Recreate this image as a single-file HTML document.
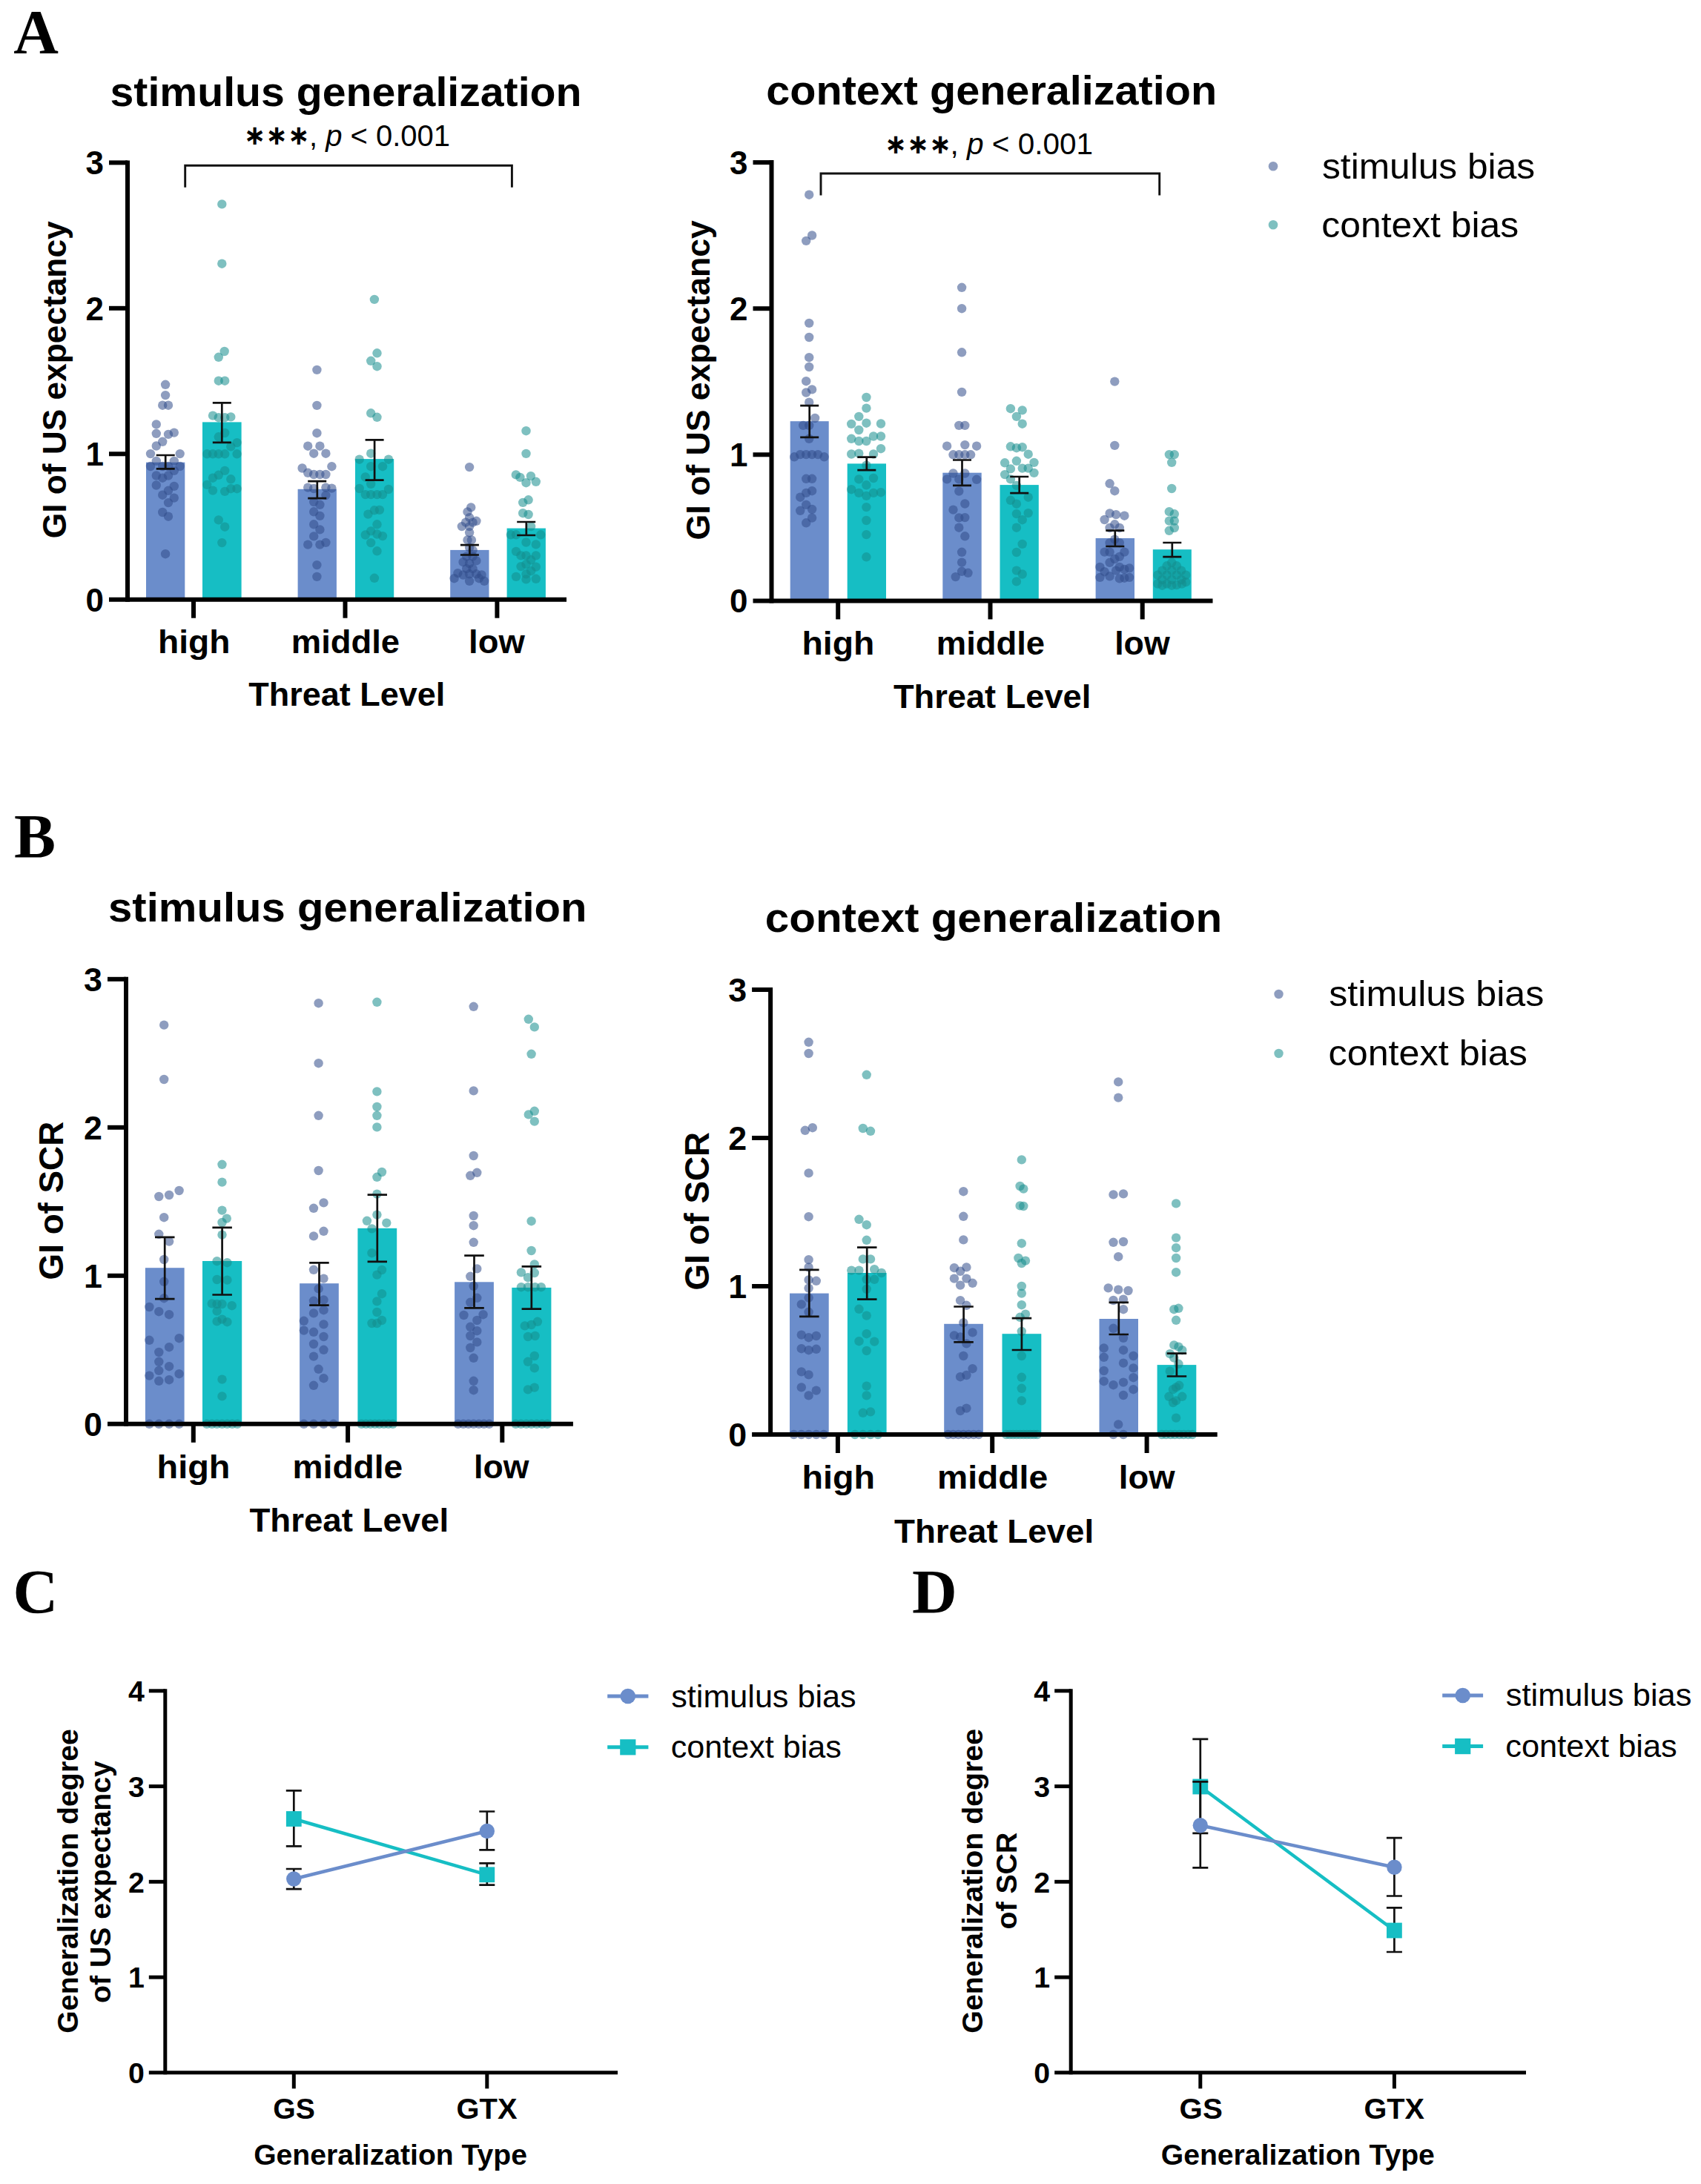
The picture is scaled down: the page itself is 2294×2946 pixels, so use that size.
<!DOCTYPE html>
<html lang="en"><head><meta charset="utf-8"><title>Generalization figure</title>
<style>html,body{margin:0;padding:0;background:#fff}svg{display:block}text{font-family:'Liberation Sans', sans-serif;fill:#000}</style>
</head><body>
<svg width="2294" height="2946" viewBox="0 0 2294 2946">
<rect width="2294" height="2946" fill="#fff"/>
<text x="18.3" y="72" font-size="84" font-weight="bold" style="font-family:'Liberation Serif', serif">A</text>
<text x="18.9" y="1157.3" font-size="84" font-weight="bold" style="font-family:'Liberation Serif', serif">B</text>
<text x="17.4" y="2176" font-size="84" font-weight="bold" style="font-family:'Liberation Serif', serif">C</text>
<text x="1230.1" y="2175.8" font-size="84" font-weight="bold" style="font-family:'Liberation Serif', serif">D</text>
<g id="AL">
<rect x="197" y="623.7" width="52.3" height="185" fill="#6b8dcb"/>
<rect x="273" y="569.4" width="52.6" height="239.3" fill="#16bec4"/>
<rect x="401.6" y="659.8" width="52.3" height="148.9" fill="#6b8dcb"/>
<rect x="479" y="619.1" width="52.2" height="189.6" fill="#16bec4"/>
<rect x="607.2" y="741.9" width="52.3" height="66.8" fill="#6b8dcb"/>
<rect x="683.6" y="712.6" width="52.3" height="96.1" fill="#16bec4"/>
<g fill="#324d8b" fill-opacity="0.55">
<circle cx="223.1" cy="518.8" r="6.2"/>
<circle cx="223.1" cy="533.1" r="6.2"/>
<circle cx="219.2" cy="546.7" r="6.2"/>
<circle cx="227" cy="546.7" r="6.2"/>
<circle cx="210.8" cy="572.4" r="6.2"/>
<circle cx="210.8" cy="584.8" r="6.2"/>
<circle cx="227" cy="585.9" r="6.2"/>
<circle cx="234.8" cy="583.6" r="6.2"/>
<circle cx="219.2" cy="595.8" r="6.2"/>
<circle cx="210.8" cy="601.5" r="6.2"/>
<circle cx="203" cy="612.1" r="6.2"/>
<circle cx="242.7" cy="612.1" r="6.2"/>
<circle cx="210.8" cy="621.9" r="6.2"/>
<circle cx="234.8" cy="621.9" r="6.2"/>
<circle cx="203" cy="629" r="6.2"/>
<circle cx="219.2" cy="629" r="6.2"/>
<circle cx="227" cy="629" r="6.2"/>
<circle cx="242.7" cy="629" r="6.2"/>
<circle cx="210.8" cy="641.5" r="6.2"/>
<circle cx="219.2" cy="644.7" r="6.2"/>
<circle cx="227" cy="641.5" r="6.2"/>
<circle cx="234.8" cy="634.9" r="6.2"/>
<circle cx="210.8" cy="654.5" r="6.2"/>
<circle cx="234.8" cy="655.9" r="6.2"/>
<circle cx="227" cy="661.8" r="6.2"/>
<circle cx="219.2" cy="667.7" r="6.2"/>
<circle cx="234.8" cy="671.6" r="6.2"/>
<circle cx="227" cy="678.1" r="6.2"/>
<circle cx="219.2" cy="691" r="6.2"/>
<circle cx="227" cy="696.7" r="6.2"/>
<circle cx="223.1" cy="747.2" r="6.2"/>
</g>
<g fill="#148c8c" fill-opacity="0.55">
<circle cx="299.3" cy="275.4" r="6.2"/>
<circle cx="299.3" cy="355.7" r="6.2"/>
<circle cx="302.7" cy="474" r="6.2"/>
<circle cx="294.8" cy="481.8" r="6.2"/>
<circle cx="294.8" cy="513.7" r="6.2"/>
<circle cx="303.2" cy="513.7" r="6.2"/>
<circle cx="287" cy="560.6" r="6.2"/>
<circle cx="294.8" cy="563.2" r="6.2"/>
<circle cx="303.2" cy="563.2" r="6.2"/>
<circle cx="311.3" cy="562.4" r="6.2"/>
<circle cx="303.2" cy="584" r="6.2"/>
<circle cx="294.8" cy="589.3" r="6.2"/>
<circle cx="319.6" cy="597.1" r="6.2"/>
<circle cx="311.3" cy="602.3" r="6.2"/>
<circle cx="279.2" cy="612.3" r="6.2"/>
<circle cx="287" cy="612.3" r="6.2"/>
<circle cx="294.8" cy="612.3" r="6.2"/>
<circle cx="303.2" cy="612.3" r="6.2"/>
<circle cx="319.6" cy="612.3" r="6.2"/>
<circle cx="303.2" cy="634.9" r="6.2"/>
<circle cx="294.8" cy="640.8" r="6.2"/>
<circle cx="287" cy="644.7" r="6.2"/>
<circle cx="311.3" cy="646.3" r="6.2"/>
<circle cx="279.2" cy="653.9" r="6.2"/>
<circle cx="287" cy="661.6" r="6.2"/>
<circle cx="303.2" cy="662.9" r="6.2"/>
<circle cx="311.3" cy="659.2" r="6.2"/>
<circle cx="319.6" cy="659.2" r="6.2"/>
<circle cx="294.8" cy="701.4" r="6.2"/>
<circle cx="303.2" cy="710.7" r="6.2"/>
<circle cx="299.3" cy="732.1" r="6.2"/>
</g>
<g fill="#324d8b" fill-opacity="0.55">
<circle cx="427.4" cy="498.9" r="6.2"/>
<circle cx="427.4" cy="546.9" r="6.2"/>
<circle cx="427.4" cy="584.2" r="6.2"/>
<circle cx="415.2" cy="601.7" r="6.2"/>
<circle cx="431.4" cy="601.7" r="6.2"/>
<circle cx="423.2" cy="611.7" r="6.2"/>
<circle cx="439.4" cy="611.7" r="6.2"/>
<circle cx="407.6" cy="631.5" r="6.2"/>
<circle cx="447.4" cy="629.2" r="6.2"/>
<circle cx="415.2" cy="637.8" r="6.2"/>
<circle cx="423.2" cy="640" r="6.2"/>
<circle cx="431.4" cy="640" r="6.2"/>
<circle cx="439.4" cy="640" r="6.2"/>
<circle cx="415.2" cy="657.6" r="6.2"/>
<circle cx="423.2" cy="659" r="6.2"/>
<circle cx="439.4" cy="657.6" r="6.2"/>
<circle cx="447.4" cy="658.6" r="6.2"/>
<circle cx="439.4" cy="668.1" r="6.2"/>
<circle cx="423.2" cy="677.1" r="6.2"/>
<circle cx="431.4" cy="680.8" r="6.2"/>
<circle cx="423.2" cy="690.3" r="6.2"/>
<circle cx="431.4" cy="695.9" r="6.2"/>
<circle cx="423.2" cy="707.3" r="6.2"/>
<circle cx="431.4" cy="714.4" r="6.2"/>
<circle cx="423.2" cy="723.4" r="6.2"/>
<circle cx="415.2" cy="734.6" r="6.2"/>
<circle cx="431.4" cy="734.6" r="6.2"/>
<circle cx="439.4" cy="731.9" r="6.2"/>
<circle cx="427.4" cy="762.1" r="6.2"/>
<circle cx="427.4" cy="777.9" r="6.2"/>
</g>
<g fill="#148c8c" fill-opacity="0.55">
<circle cx="504.9" cy="403.9" r="6.2"/>
<circle cx="508.5" cy="476.3" r="6.2"/>
<circle cx="500.2" cy="486.8" r="6.2"/>
<circle cx="508.5" cy="494.2" r="6.2"/>
<circle cx="500.2" cy="557.3" r="6.2"/>
<circle cx="508.5" cy="562.8" r="6.2"/>
<circle cx="500.2" cy="611.7" r="6.2"/>
<circle cx="484.7" cy="619.7" r="6.2"/>
<circle cx="524" cy="619.7" r="6.2"/>
<circle cx="500.2" cy="629.2" r="6.2"/>
<circle cx="516" cy="629.2" r="6.2"/>
<circle cx="492.8" cy="643.5" r="6.2"/>
<circle cx="500.2" cy="652.9" r="6.2"/>
<circle cx="484.7" cy="659" r="6.2"/>
<circle cx="524" cy="660" r="6.2"/>
<circle cx="492.8" cy="667.1" r="6.2"/>
<circle cx="500.2" cy="667.1" r="6.2"/>
<circle cx="508.5" cy="667.1" r="6.2"/>
<circle cx="516" cy="667.1" r="6.2"/>
<circle cx="504.9" cy="688.3" r="6.2"/>
<circle cx="511.9" cy="687.9" r="6.2"/>
<circle cx="496.4" cy="693.6" r="6.2"/>
<circle cx="508.5" cy="707.3" r="6.2"/>
<circle cx="500.2" cy="716.4" r="6.2"/>
<circle cx="492.8" cy="721.5" r="6.2"/>
<circle cx="508.5" cy="720.5" r="6.2"/>
<circle cx="516" cy="723.1" r="6.2"/>
<circle cx="500.2" cy="732.1" r="6.2"/>
<circle cx="508.5" cy="743.3" r="6.2"/>
<circle cx="504.9" cy="779.8" r="6.2"/>
</g>
<g fill="#324d8b" fill-opacity="0.55">
<circle cx="633.1" cy="630.1" r="6.2"/>
<circle cx="635.2" cy="684.4" r="6.2"/>
<circle cx="630.5" cy="690.4" r="6.2"/>
<circle cx="633.1" cy="698.1" r="6.2"/>
<circle cx="628.1" cy="704.6" r="6.2"/>
<circle cx="642.4" cy="702.8" r="6.2"/>
<circle cx="637.6" cy="704.6" r="6.2"/>
<circle cx="622.8" cy="710.1" r="6.2"/>
<circle cx="633.1" cy="710.1" r="6.2"/>
<circle cx="633.1" cy="718.3" r="6.2"/>
<circle cx="630.5" cy="728.4" r="6.2"/>
<circle cx="635.9" cy="728.4" r="6.2"/>
<circle cx="633.1" cy="738.6" r="6.2"/>
<circle cx="637.6" cy="742.1" r="6.2"/>
<circle cx="629.2" cy="750.6" r="6.2"/>
<circle cx="637.6" cy="750.6" r="6.2"/>
<circle cx="624.6" cy="758.2" r="6.2"/>
<circle cx="633.1" cy="760" r="6.2"/>
<circle cx="642.4" cy="756.4" r="6.2"/>
<circle cx="629.2" cy="767.1" r="6.2"/>
<circle cx="637.6" cy="767.1" r="6.2"/>
<circle cx="617.4" cy="773.1" r="6.2"/>
<circle cx="624.6" cy="775.5" r="6.2"/>
<circle cx="633.1" cy="774.3" r="6.2"/>
<circle cx="642.4" cy="774.3" r="6.2"/>
<circle cx="649.6" cy="775.5" r="6.2"/>
<circle cx="612.6" cy="780.2" r="6.2"/>
<circle cx="633.1" cy="783.8" r="6.2"/>
<circle cx="646" cy="780.2" r="6.2"/>
<circle cx="653.1" cy="783.8" r="6.2"/>
</g>
<g fill="#148c8c" fill-opacity="0.55">
<circle cx="709.5" cy="581.2" r="6.2"/>
<circle cx="709.5" cy="611.9" r="6.2"/>
<circle cx="695.8" cy="640.4" r="6.2"/>
<circle cx="701.4" cy="643.9" r="6.2"/>
<circle cx="715.9" cy="642.1" r="6.2"/>
<circle cx="709.5" cy="651.2" r="6.2"/>
<circle cx="722.8" cy="649.8" r="6.2"/>
<circle cx="712.6" cy="674.3" r="6.2"/>
<circle cx="705.2" cy="677.9" r="6.2"/>
<circle cx="705.2" cy="692.2" r="6.2"/>
<circle cx="712.6" cy="694" r="6.2"/>
<circle cx="716.1" cy="710.1" r="6.2"/>
<circle cx="688.9" cy="721.3" r="6.2"/>
<circle cx="696" cy="721.3" r="6.2"/>
<circle cx="729.2" cy="721.3" r="6.2"/>
<circle cx="709.5" cy="731.5" r="6.2"/>
<circle cx="722.8" cy="734.4" r="6.2"/>
<circle cx="696" cy="743.9" r="6.2"/>
<circle cx="702.5" cy="749.4" r="6.2"/>
<circle cx="709.5" cy="749.4" r="6.2"/>
<circle cx="722.8" cy="749.4" r="6.2"/>
<circle cx="716.1" cy="755.3" r="6.2"/>
<circle cx="709.5" cy="761.2" r="6.2"/>
<circle cx="702.5" cy="764.1" r="6.2"/>
<circle cx="722.8" cy="764.7" r="6.2"/>
<circle cx="716.1" cy="770.2" r="6.2"/>
<circle cx="709.5" cy="774.3" r="6.2"/>
<circle cx="696" cy="777.9" r="6.2"/>
<circle cx="722.8" cy="780.8" r="6.2"/>
<circle cx="709.5" cy="781.4" r="6.2"/>
</g>
<g stroke="#111" stroke-width="2.7" fill="none">
<path d="M223.2 614V632.3M210.7 614H235.7M210.7 632.3H235.7"/>
<path d="M299.3 543.3V596.8M286.8 543.3H311.8M286.8 596.8H311.8"/>
<path d="M427.8 649.1V672.1M415.2 649.1H440.2M415.2 672.1H440.2"/>
<path d="M505.1 593.4V647.6M492.6 593.4H517.6M492.6 647.6H517.6"/>
<path d="M633.4 735.1V748.5M620.9 735.1H645.9M620.9 748.5H645.9"/>
<path d="M709.8 704V722M697.2 704H722.2M697.2 722H722.2"/>
</g>
<g stroke="#000" stroke-width="6" fill="none">
<path d="M172 216.4V811.7"/>
<path d="M147 808.7H764"/>
<path d="M147 612.3H172"/>
<path d="M147 415.8H172"/>
<path d="M147 219.4H172"/>
<path d="M261 808.7V833.7"/>
<path d="M465.5 808.7V833.7"/>
<path d="M670.4 808.7V833.7"/>
</g>
<text x="140" y="824.7" font-size="44" text-anchor="end" font-weight="bold">0</text>
<text x="140" y="628.3" font-size="44" text-anchor="end" font-weight="bold">1</text>
<text x="140" y="431.9" font-size="44" text-anchor="end" font-weight="bold">2</text>
<text x="140" y="235.4" font-size="44" text-anchor="end" font-weight="bold">3</text>
<text x="213.1" y="881" font-size="44" font-weight="bold" textLength="97.4" lengthAdjust="spacingAndGlyphs">high</text>
<text x="392.8" y="881" font-size="44" font-weight="bold" textLength="146.3" lengthAdjust="spacingAndGlyphs">middle</text>
<text x="632.1" y="881" font-size="44" font-weight="bold" textLength="75.7" lengthAdjust="spacingAndGlyphs">low</text>
<text x="335.3" y="952" font-size="44" font-weight="bold" textLength="264.9" lengthAdjust="spacingAndGlyphs">Threat Level</text>
<text transform="translate(89.4 726.2) rotate(-90)" font-size="44" font-weight="bold" textLength="427.8" lengthAdjust="spacingAndGlyphs">GI of US expectancy</text>
<text x="148.5" y="143.3" font-size="55" font-weight="bold" textLength="636" lengthAdjust="spacingAndGlyphs">stimulus generalization</text>
</g>
<text x="329" y="195.3" font-size="37" text-anchor="start" font-weight="bold" style="font-family:'DejaVu Sans',sans-serif" textLength="88.8" lengthAdjust="spacingAndGlyphs">∗∗∗</text>
<text x="417" y="197" font-size="41" text-anchor="start" font-weight="normal" textLength="190" lengthAdjust="spacingAndGlyphs">, <tspan font-style="italic">p</tspan> &lt; 0.001</text>
<path d="M249.7 252.8V223.3H690.4V252.8" stroke="#111" stroke-width="2.9" fill="none"/>
<g id="AR">
<rect x="1065.7" y="568.2" width="52" height="242.2" fill="#6b8dcb"/>
<rect x="1142.7" y="625.4" width="52.3" height="185" fill="#16bec4"/>
<rect x="1271.3" y="637.7" width="52.4" height="172.7" fill="#6b8dcb"/>
<rect x="1348.5" y="654.1" width="52.3" height="156.3" fill="#16bec4"/>
<rect x="1477.6" y="726" width="52.4" height="84.4" fill="#6b8dcb"/>
<rect x="1554.8" y="741.2" width="52" height="69.2" fill="#16bec4"/>
<g fill="#324d8b" fill-opacity="0.55">
<circle cx="1091.2" cy="262.7" r="6.2"/>
<circle cx="1095.1" cy="317.5" r="6.2"/>
<circle cx="1087.2" cy="324.9" r="6.2"/>
<circle cx="1091.2" cy="435.9" r="6.2"/>
<circle cx="1091.2" cy="455" r="6.2"/>
<circle cx="1091.2" cy="482.2" r="6.2"/>
<circle cx="1091.2" cy="495" r="6.2"/>
<circle cx="1087.2" cy="514.2" r="6.2"/>
<circle cx="1095.1" cy="525.4" r="6.2"/>
<circle cx="1087.2" cy="529.5" r="6.2"/>
<circle cx="1091.2" cy="542.7" r="6.2"/>
<circle cx="1099.1" cy="564" r="6.2"/>
<circle cx="1083.2" cy="573.9" r="6.2"/>
<circle cx="1091.2" cy="573.9" r="6.2"/>
<circle cx="1091.2" cy="591.8" r="6.2"/>
<circle cx="1071.2" cy="616.3" r="6.2"/>
<circle cx="1079.2" cy="613.1" r="6.2"/>
<circle cx="1087.2" cy="613.1" r="6.2"/>
<circle cx="1095.1" cy="613.1" r="6.2"/>
<circle cx="1103.1" cy="613.1" r="6.2"/>
<circle cx="1111.6" cy="616.3" r="6.2"/>
<circle cx="1087.2" cy="645.8" r="6.2"/>
<circle cx="1095.1" cy="645.8" r="6.2"/>
<circle cx="1095.1" cy="662.2" r="6.2"/>
<circle cx="1087.2" cy="664.9" r="6.2"/>
<circle cx="1079.2" cy="670.7" r="6.2"/>
<circle cx="1087.2" cy="680.9" r="6.2"/>
<circle cx="1095.1" cy="687" r="6.2"/>
<circle cx="1079.2" cy="688.8" r="6.2"/>
<circle cx="1095.1" cy="698.6" r="6.2"/>
<circle cx="1087.2" cy="705.3" r="6.2"/>
</g>
<g fill="#148c8c" fill-opacity="0.55">
<circle cx="1168.4" cy="536" r="6.2"/>
<circle cx="1168.4" cy="550.6" r="6.2"/>
<circle cx="1158.3" cy="561.9" r="6.2"/>
<circle cx="1168.4" cy="570.7" r="6.2"/>
<circle cx="1148.2" cy="571.9" r="6.2"/>
<circle cx="1188" cy="571.5" r="6.2"/>
<circle cx="1158.3" cy="580" r="6.2"/>
<circle cx="1148.2" cy="591.8" r="6.2"/>
<circle cx="1158.3" cy="595" r="6.2"/>
<circle cx="1168.4" cy="595" r="6.2"/>
<circle cx="1178" cy="588.5" r="6.2"/>
<circle cx="1188" cy="588.5" r="6.2"/>
<circle cx="1188" cy="605.2" r="6.2"/>
<circle cx="1148.2" cy="612.5" r="6.2"/>
<circle cx="1158.3" cy="611.7" r="6.2"/>
<circle cx="1178" cy="612.5" r="6.2"/>
<circle cx="1168.4" cy="627.7" r="6.2"/>
<circle cx="1158.3" cy="646.4" r="6.2"/>
<circle cx="1178" cy="645" r="6.2"/>
<circle cx="1168.4" cy="654.3" r="6.2"/>
<circle cx="1148.2" cy="660.2" r="6.2"/>
<circle cx="1158.3" cy="664.9" r="6.2"/>
<circle cx="1168.4" cy="668.9" r="6.2"/>
<circle cx="1178" cy="664.9" r="6.2"/>
<circle cx="1188" cy="664.2" r="6.2"/>
<circle cx="1168.4" cy="684.1" r="6.2"/>
<circle cx="1168.4" cy="702" r="6.2"/>
<circle cx="1168.4" cy="721.1" r="6.2"/>
<circle cx="1168.4" cy="751.3" r="6.2"/>
</g>
<g fill="#324d8b" fill-opacity="0.55">
<circle cx="1297.1" cy="387.8" r="6.2"/>
<circle cx="1297.1" cy="416.2" r="6.2"/>
<circle cx="1297.1" cy="475.3" r="6.2"/>
<circle cx="1297.1" cy="528.9" r="6.2"/>
<circle cx="1293.3" cy="573.9" r="6.2"/>
<circle cx="1301.3" cy="573.9" r="6.2"/>
<circle cx="1277.1" cy="601.7" r="6.2"/>
<circle cx="1301.3" cy="600.1" r="6.2"/>
<circle cx="1317.1" cy="601.7" r="6.2"/>
<circle cx="1285.5" cy="613.3" r="6.2"/>
<circle cx="1293.3" cy="613.3" r="6.2"/>
<circle cx="1301.3" cy="613.3" r="6.2"/>
<circle cx="1309.1" cy="613.3" r="6.2"/>
<circle cx="1285.5" cy="638.5" r="6.2"/>
<circle cx="1301.3" cy="638.5" r="6.2"/>
<circle cx="1277.1" cy="646.4" r="6.2"/>
<circle cx="1293.3" cy="646.4" r="6.2"/>
<circle cx="1317.1" cy="646.8" r="6.2"/>
<circle cx="1293.3" cy="662.6" r="6.2"/>
<circle cx="1301.3" cy="679.5" r="6.2"/>
<circle cx="1285.5" cy="687.6" r="6.2"/>
<circle cx="1293.3" cy="698.4" r="6.2"/>
<circle cx="1301.3" cy="698.1" r="6.2"/>
<circle cx="1293.3" cy="711.7" r="6.2"/>
<circle cx="1301.3" cy="723.3" r="6.2"/>
<circle cx="1297.1" cy="744.8" r="6.2"/>
<circle cx="1297.1" cy="758.6" r="6.2"/>
<circle cx="1297.1" cy="770.8" r="6.2"/>
<circle cx="1305.5" cy="772.8" r="6.2"/>
<circle cx="1288.7" cy="778.1" r="6.2"/>
</g>
<g fill="#148c8c" fill-opacity="0.55">
<circle cx="1362.9" cy="551.2" r="6.2"/>
<circle cx="1378.7" cy="553.4" r="6.2"/>
<circle cx="1370.9" cy="561.9" r="6.2"/>
<circle cx="1378.7" cy="571.7" r="6.2"/>
<circle cx="1362.9" cy="602.3" r="6.2"/>
<circle cx="1370.9" cy="604.2" r="6.2"/>
<circle cx="1378.7" cy="603.2" r="6.2"/>
<circle cx="1386.7" cy="612.7" r="6.2"/>
<circle cx="1370.9" cy="621.8" r="6.2"/>
<circle cx="1355.1" cy="624.3" r="6.2"/>
<circle cx="1394.5" cy="623.9" r="6.2"/>
<circle cx="1362.9" cy="632.4" r="6.2"/>
<circle cx="1378.7" cy="631.6" r="6.2"/>
<circle cx="1386.7" cy="631.6" r="6.2"/>
<circle cx="1355.1" cy="640.1" r="6.2"/>
<circle cx="1394.5" cy="637.9" r="6.2"/>
<circle cx="1362.9" cy="646.4" r="6.2"/>
<circle cx="1370.9" cy="654.9" r="6.2"/>
<circle cx="1386.7" cy="670.7" r="6.2"/>
<circle cx="1362.9" cy="674.8" r="6.2"/>
<circle cx="1370.9" cy="679.7" r="6.2"/>
<circle cx="1370.9" cy="693.1" r="6.2"/>
<circle cx="1386.7" cy="692.1" r="6.2"/>
<circle cx="1378.7" cy="701.2" r="6.2"/>
<circle cx="1370.9" cy="711.7" r="6.2"/>
<circle cx="1378.7" cy="733.9" r="6.2"/>
<circle cx="1370.9" cy="745" r="6.2"/>
<circle cx="1370.9" cy="769.6" r="6.2"/>
<circle cx="1378.7" cy="774.5" r="6.2"/>
<circle cx="1370.9" cy="784.4" r="6.2"/>
</g>
<g fill="#324d8b" fill-opacity="0.55">
<circle cx="1503.3" cy="514.6" r="6.2"/>
<circle cx="1503.3" cy="600.9" r="6.2"/>
<circle cx="1496.6" cy="652.3" r="6.2"/>
<circle cx="1503.3" cy="662.2" r="6.2"/>
<circle cx="1496.6" cy="692.5" r="6.2"/>
<circle cx="1505.1" cy="694.1" r="6.2"/>
<circle cx="1516.4" cy="695.7" r="6.2"/>
<circle cx="1489.6" cy="701" r="6.2"/>
<circle cx="1503.3" cy="707.3" r="6.2"/>
<circle cx="1496.6" cy="712" r="6.2"/>
<circle cx="1509.8" cy="712" r="6.2"/>
<circle cx="1503.3" cy="727.6" r="6.2"/>
<circle cx="1496.6" cy="732.2" r="6.2"/>
<circle cx="1509.8" cy="732.2" r="6.2"/>
<circle cx="1489.6" cy="744.6" r="6.2"/>
<circle cx="1496.6" cy="744.6" r="6.2"/>
<circle cx="1516.4" cy="744.6" r="6.2"/>
<circle cx="1509.8" cy="750.9" r="6.2"/>
<circle cx="1503.3" cy="754" r="6.2"/>
<circle cx="1496.6" cy="758.8" r="6.2"/>
<circle cx="1483.4" cy="764.9" r="6.2"/>
<circle cx="1489.6" cy="771.2" r="6.2"/>
<circle cx="1496.6" cy="777.3" r="6.2"/>
<circle cx="1505.1" cy="769.6" r="6.2"/>
<circle cx="1509.8" cy="764.9" r="6.2"/>
<circle cx="1516.4" cy="768" r="6.2"/>
<circle cx="1523" cy="766.4" r="6.2"/>
<circle cx="1483.4" cy="778.9" r="6.2"/>
<circle cx="1509.8" cy="780.4" r="6.2"/>
<circle cx="1523" cy="778.9" r="6.2"/>
<circle cx="1516.4" cy="779.7" r="6.2"/>
</g>
<g fill="#148c8c" fill-opacity="0.55">
<circle cx="1576.8" cy="613.1" r="6.2"/>
<circle cx="1583.8" cy="613.1" r="6.2"/>
<circle cx="1580.2" cy="623.9" r="6.2"/>
<circle cx="1580.2" cy="659" r="6.2"/>
<circle cx="1576.8" cy="690.2" r="6.2"/>
<circle cx="1583.8" cy="693.3" r="6.2"/>
<circle cx="1576.8" cy="702.6" r="6.2"/>
<circle cx="1583.8" cy="702.6" r="6.2"/>
<circle cx="1583.8" cy="712" r="6.2"/>
<circle cx="1576.8" cy="715.8" r="6.2"/>
<circle cx="1580.2" cy="758.8" r="6.2"/>
<circle cx="1573.6" cy="763.3" r="6.2"/>
<circle cx="1586.9" cy="763.3" r="6.2"/>
<circle cx="1567.4" cy="769.6" r="6.2"/>
<circle cx="1580.2" cy="769.6" r="6.2"/>
<circle cx="1593.1" cy="769.6" r="6.2"/>
<circle cx="1561.2" cy="775.7" r="6.2"/>
<circle cx="1573.6" cy="775.7" r="6.2"/>
<circle cx="1586.9" cy="775.7" r="6.2"/>
<circle cx="1599.3" cy="775.7" r="6.2"/>
<circle cx="1567.4" cy="782" r="6.2"/>
<circle cx="1580.2" cy="782" r="6.2"/>
<circle cx="1593.1" cy="782" r="6.2"/>
<circle cx="1561.2" cy="787.5" r="6.2"/>
<circle cx="1573.6" cy="787.5" r="6.2"/>
<circle cx="1599.3" cy="785.2" r="6.2"/>
<circle cx="1586.9" cy="789.1" r="6.2"/>
<circle cx="1580.2" cy="789.7" r="6.2"/>
<circle cx="1567.4" cy="789.7" r="6.2"/>
<circle cx="1593.9" cy="787.5" r="6.2"/>
</g>
<g stroke="#111" stroke-width="2.7" fill="none">
<path d="M1091.7 547.1V589.9M1079.2 547.1H1104.2M1079.2 589.9H1104.2"/>
<path d="M1168.8 616.7V634.2M1156.3 616.7H1181.3M1156.3 634.2H1181.3"/>
<path d="M1297.5 620.5V654.9M1285 620.5H1310M1285 654.9H1310"/>
<path d="M1374.7 643V665.2M1362.2 643H1387.2M1362.2 665.2H1387.2"/>
<path d="M1503.8 715.6V737M1491.3 715.6H1516.3M1491.3 737H1516.3"/>
<path d="M1580.8 732V751.2M1568.3 732H1593.3M1568.3 751.2H1593.3"/>
</g>
<g stroke="#000" stroke-width="6" fill="none">
<path d="M1040.5 216.1V813.4"/>
<path d="M1015.5 810.4H1635.5"/>
<path d="M1015.5 613.3H1040.5"/>
<path d="M1015.5 416.2H1040.5"/>
<path d="M1015.5 219.1H1040.5"/>
<path d="M1130.2 810.4V835.4"/>
<path d="M1335.5 810.4V835.4"/>
<path d="M1540.7 810.4V835.4"/>
</g>
<text x="1008.5" y="826.4" font-size="44" text-anchor="end" font-weight="bold">0</text>
<text x="1008.5" y="629.3" font-size="44" text-anchor="end" font-weight="bold">1</text>
<text x="1008.5" y="432.2" font-size="44" text-anchor="end" font-weight="bold">2</text>
<text x="1008.5" y="235.1" font-size="44" text-anchor="end" font-weight="bold">3</text>
<text x="1081.5" y="883.2" font-size="44" font-weight="bold" textLength="97.8" lengthAdjust="spacingAndGlyphs">high</text>
<text x="1262.8" y="883.2" font-size="44" font-weight="bold" textLength="146.3" lengthAdjust="spacingAndGlyphs">middle</text>
<text x="1503.2" y="883.2" font-size="44" font-weight="bold" textLength="74.5" lengthAdjust="spacingAndGlyphs">low</text>
<text x="1205" y="955" font-size="44" font-weight="bold" textLength="266.2" lengthAdjust="spacingAndGlyphs">Threat Level</text>
<text transform="translate(957.4 728.5) rotate(-90)" font-size="44" font-weight="bold" textLength="431.3" lengthAdjust="spacingAndGlyphs">GI of US expectancy</text>
<text x="1033.3" y="141.3" font-size="55" font-weight="bold" textLength="607.8" lengthAdjust="spacingAndGlyphs">context generalization</text>
</g>
<text x="1193.2" y="206.5" font-size="37" text-anchor="start" font-weight="bold" style="font-family:'DejaVu Sans',sans-serif" textLength="90" lengthAdjust="spacingAndGlyphs">∗∗∗</text>
<text x="1281.5" y="208" font-size="41" text-anchor="start" font-weight="normal" textLength="192.5" lengthAdjust="spacingAndGlyphs">, <tspan font-style="italic">p</tspan> &lt; 0.001</text>
<path d="M1107 263.5V234H1563.7V263.5" stroke="#111" stroke-width="2.9" fill="none"/>
<circle cx="1717" cy="224.2" r="6.3" fill="#324d8b" fill-opacity="0.55"/>
<circle cx="1717" cy="303.3" r="6.3" fill="#148c8c" fill-opacity="0.55"/>
<text x="1783" y="240.9" font-size="48.5" font-weight="normal" textLength="287.1" lengthAdjust="spacingAndGlyphs">stimulus bias</text>
<text x="1782.3" y="320.4" font-size="48.5" font-weight="normal" textLength="265.9" lengthAdjust="spacingAndGlyphs">context bias</text>
<g id="BL">
<rect x="195.9" y="1710.2" width="52.7" height="210.6" fill="#6b8dcb"/>
<rect x="273" y="1701" width="53.2" height="219.8" fill="#16bec4"/>
<rect x="404.1" y="1731.2" width="52.7" height="189.6" fill="#6b8dcb"/>
<rect x="482.4" y="1656.8" width="52.8" height="264" fill="#16bec4"/>
<rect x="613.1" y="1729.3" width="52.8" height="191.5" fill="#6b8dcb"/>
<rect x="690.3" y="1736.9" width="53.1" height="183.9" fill="#16bec4"/>
<g fill="#324d8b" fill-opacity="0.55">
<circle cx="221.2" cy="1382.6" r="6.2"/>
<circle cx="221.2" cy="1456" r="6.2"/>
<circle cx="214.3" cy="1614" r="6.2"/>
<circle cx="228.1" cy="1612" r="6.2"/>
<circle cx="241.6" cy="1606" r="6.2"/>
<circle cx="221.2" cy="1642.2" r="6.2"/>
<circle cx="214.3" cy="1664.8" r="6.2"/>
<circle cx="228.1" cy="1674.6" r="6.2"/>
<circle cx="221.2" cy="1699" r="6.2"/>
<circle cx="221.2" cy="1728.8" r="6.2"/>
<circle cx="221.2" cy="1751.2" r="6.2"/>
<circle cx="201.4" cy="1763" r="6.2"/>
<circle cx="214.3" cy="1769.2" r="6.2"/>
<circle cx="228.1" cy="1773.2" r="6.2"/>
<circle cx="201.4" cy="1807.8" r="6.2"/>
<circle cx="241.6" cy="1805.2" r="6.2"/>
<circle cx="228.1" cy="1817.2" r="6.2"/>
<circle cx="214.3" cy="1824" r="6.2"/>
<circle cx="214.3" cy="1836.8" r="6.2"/>
<circle cx="228.1" cy="1843.2" r="6.2"/>
<circle cx="214.3" cy="1848.8" r="6.2"/>
<circle cx="201.4" cy="1855.6" r="6.2"/>
<circle cx="241.6" cy="1853.2" r="6.2"/>
<circle cx="214.3" cy="1862.8" r="6.2"/>
<circle cx="228.1" cy="1861.2" r="6.2"/>
<circle cx="201.4" cy="1920.8" r="6.2"/>
<circle cx="214.3" cy="1920.8" r="6.2"/>
<circle cx="228.1" cy="1920.8" r="6.2"/>
<circle cx="241.6" cy="1920.8" r="6.2"/>
</g>
<g fill="#148c8c" fill-opacity="0.55">
<circle cx="299.5" cy="1570.8" r="6.2"/>
<circle cx="299.5" cy="1594.6" r="6.2"/>
<circle cx="299.5" cy="1632.6" r="6.2"/>
<circle cx="305.8" cy="1643.6" r="6.2"/>
<circle cx="299.5" cy="1649" r="6.2"/>
<circle cx="299.5" cy="1665.6" r="6.2"/>
<circle cx="292.6" cy="1701.2" r="6.2"/>
<circle cx="306.4" cy="1703.2" r="6.2"/>
<circle cx="292.6" cy="1726" r="6.2"/>
<circle cx="306.4" cy="1726.6" r="6.2"/>
<circle cx="285.8" cy="1758.4" r="6.2"/>
<circle cx="292.6" cy="1759" r="6.2"/>
<circle cx="299.5" cy="1759" r="6.2"/>
<circle cx="312.7" cy="1761.2" r="6.2"/>
<circle cx="292.6" cy="1768.6" r="6.2"/>
<circle cx="292.6" cy="1782.4" r="6.2"/>
<circle cx="299.5" cy="1779.6" r="6.2"/>
<circle cx="306.4" cy="1783.2" r="6.2"/>
<circle cx="299.5" cy="1860.6" r="6.2"/>
<circle cx="299.5" cy="1883.4" r="6.2"/>
<circle cx="278.9" cy="1920.8" r="6.2"/>
<circle cx="285.8" cy="1920.8" r="6.2"/>
<circle cx="292.6" cy="1920.8" r="6.2"/>
<circle cx="299.5" cy="1920.8" r="6.2"/>
<circle cx="306.4" cy="1920.8" r="6.2"/>
<circle cx="313.2" cy="1920.8" r="6.2"/>
<circle cx="320.1" cy="1920.8" r="6.2"/>
</g>
<g fill="#324d8b" fill-opacity="0.55">
<circle cx="429.6" cy="1353.2" r="6.2"/>
<circle cx="429.6" cy="1434.2" r="6.2"/>
<circle cx="429.6" cy="1504.8" r="6.2"/>
<circle cx="429.6" cy="1579" r="6.2"/>
<circle cx="423" cy="1629.8" r="6.2"/>
<circle cx="436.5" cy="1622.4" r="6.2"/>
<circle cx="423" cy="1667.4" r="6.2"/>
<circle cx="436.5" cy="1660.8" r="6.2"/>
<circle cx="423" cy="1712.8" r="6.2"/>
<circle cx="436.5" cy="1724.6" r="6.2"/>
<circle cx="429.6" cy="1738.4" r="6.2"/>
<circle cx="423" cy="1754.8" r="6.2"/>
<circle cx="436.5" cy="1753.4" r="6.2"/>
<circle cx="423" cy="1771.4" r="6.2"/>
<circle cx="436.5" cy="1767.2" r="6.2"/>
<circle cx="409.8" cy="1781.8" r="6.2"/>
<circle cx="436.5" cy="1786.4" r="6.2"/>
<circle cx="409.8" cy="1794.6" r="6.2"/>
<circle cx="423" cy="1796.8" r="6.2"/>
<circle cx="436.5" cy="1803" r="6.2"/>
<circle cx="423" cy="1813" r="6.2"/>
<circle cx="436.5" cy="1820.8" r="6.2"/>
<circle cx="423" cy="1829.6" r="6.2"/>
<circle cx="429.6" cy="1846.8" r="6.2"/>
<circle cx="436.5" cy="1859.2" r="6.2"/>
<circle cx="423" cy="1868.8" r="6.2"/>
<circle cx="409.8" cy="1920.8" r="6.2"/>
<circle cx="423" cy="1920.8" r="6.2"/>
<circle cx="436.5" cy="1920.8" r="6.2"/>
<circle cx="449.7" cy="1920.8" r="6.2"/>
</g>
<g fill="#148c8c" fill-opacity="0.55">
<circle cx="508.4" cy="1351.8" r="6.2"/>
<circle cx="508.4" cy="1472.4" r="6.2"/>
<circle cx="508.4" cy="1493" r="6.2"/>
<circle cx="508.4" cy="1504.8" r="6.2"/>
<circle cx="508.4" cy="1520.4" r="6.2"/>
<circle cx="515" cy="1581" r="6.2"/>
<circle cx="508.4" cy="1587.8" r="6.2"/>
<circle cx="508.4" cy="1610.6" r="6.2"/>
<circle cx="508.4" cy="1638.6" r="6.2"/>
<circle cx="494.9" cy="1646.8" r="6.2"/>
<circle cx="521.3" cy="1649.6" r="6.2"/>
<circle cx="501.5" cy="1657.4" r="6.2"/>
<circle cx="501.5" cy="1690.2" r="6.2"/>
<circle cx="515" cy="1713" r="6.2"/>
<circle cx="508.4" cy="1719.6" r="6.2"/>
<circle cx="515" cy="1745.2" r="6.2"/>
<circle cx="508.4" cy="1755.4" r="6.2"/>
<circle cx="508.4" cy="1770" r="6.2"/>
<circle cx="515" cy="1781" r="6.2"/>
<circle cx="501.5" cy="1785" r="6.2"/>
<circle cx="508.4" cy="1785" r="6.2"/>
<circle cx="487.5" cy="1920.8" r="6.2"/>
<circle cx="493.6" cy="1920.8" r="6.2"/>
<circle cx="499.6" cy="1920.8" r="6.2"/>
<circle cx="505.7" cy="1920.8" r="6.2"/>
<circle cx="511.7" cy="1920.8" r="6.2"/>
<circle cx="517.7" cy="1920.8" r="6.2"/>
<circle cx="523.8" cy="1920.8" r="6.2"/>
<circle cx="529.8" cy="1920.8" r="6.2"/>
</g>
<g fill="#324d8b" fill-opacity="0.55">
<circle cx="638.7" cy="1357.8" r="6.2"/>
<circle cx="638.7" cy="1471.4" r="6.2"/>
<circle cx="638.7" cy="1559" r="6.2"/>
<circle cx="643.3" cy="1581.8" r="6.2"/>
<circle cx="634.3" cy="1585.8" r="6.2"/>
<circle cx="638.7" cy="1640" r="6.2"/>
<circle cx="638.7" cy="1653.2" r="6.2"/>
<circle cx="638.7" cy="1675.8" r="6.2"/>
<circle cx="643.3" cy="1711.4" r="6.2"/>
<circle cx="634.3" cy="1721.8" r="6.2"/>
<circle cx="638.7" cy="1734.8" r="6.2"/>
<circle cx="643.3" cy="1750.8" r="6.2"/>
<circle cx="634.3" cy="1756.8" r="6.2"/>
<circle cx="625.5" cy="1774" r="6.2"/>
<circle cx="651.6" cy="1773.2" r="6.2"/>
<circle cx="643.3" cy="1781" r="6.2"/>
<circle cx="634.3" cy="1789.8" r="6.2"/>
<circle cx="643.3" cy="1795.2" r="6.2"/>
<circle cx="634.3" cy="1802" r="6.2"/>
<circle cx="643.3" cy="1810.4" r="6.2"/>
<circle cx="634.3" cy="1818" r="6.2"/>
<circle cx="638.7" cy="1831.8" r="6.2"/>
<circle cx="638.7" cy="1862.8" r="6.2"/>
<circle cx="638.7" cy="1875.2" r="6.2"/>
<circle cx="617.8" cy="1920.8" r="6.2"/>
<circle cx="624.9" cy="1920.8" r="6.2"/>
<circle cx="631.8" cy="1920.8" r="6.2"/>
<circle cx="638.7" cy="1920.8" r="6.2"/>
<circle cx="645.8" cy="1920.8" r="6.2"/>
<circle cx="652.7" cy="1920.8" r="6.2"/>
<circle cx="659.8" cy="1920.8" r="6.2"/>
</g>
<g fill="#148c8c" fill-opacity="0.55">
<circle cx="712.8" cy="1374.8" r="6.2"/>
<circle cx="720.8" cy="1385.4" r="6.2"/>
<circle cx="716.6" cy="1421.8" r="6.2"/>
<circle cx="720.8" cy="1498.8" r="6.2"/>
<circle cx="712.8" cy="1503.4" r="6.2"/>
<circle cx="720.8" cy="1512.6" r="6.2"/>
<circle cx="716.6" cy="1647.2" r="6.2"/>
<circle cx="716.6" cy="1687" r="6.2"/>
<circle cx="720.8" cy="1705.4" r="6.2"/>
<circle cx="702.9" cy="1716.4" r="6.2"/>
<circle cx="720.8" cy="1717" r="6.2"/>
<circle cx="712" cy="1723.2" r="6.2"/>
<circle cx="702.9" cy="1736.2" r="6.2"/>
<circle cx="712" cy="1736.2" r="6.2"/>
<circle cx="721.6" cy="1736.2" r="6.2"/>
<circle cx="729.8" cy="1736.2" r="6.2"/>
<circle cx="724.9" cy="1782.8" r="6.2"/>
<circle cx="707.8" cy="1788.4" r="6.2"/>
<circle cx="716.6" cy="1787" r="6.2"/>
<circle cx="712" cy="1803" r="6.2"/>
<circle cx="721.6" cy="1802" r="6.2"/>
<circle cx="720.8" cy="1829" r="6.2"/>
<circle cx="712" cy="1836.8" r="6.2"/>
<circle cx="720.8" cy="1845.4" r="6.2"/>
<circle cx="720.8" cy="1871.6" r="6.2"/>
<circle cx="712" cy="1874.4" r="6.2"/>
<circle cx="695.5" cy="1920.8" r="6.2"/>
<circle cx="702.6" cy="1920.8" r="6.2"/>
<circle cx="709.8" cy="1920.8" r="6.2"/>
<circle cx="716.6" cy="1920.8" r="6.2"/>
<circle cx="723.8" cy="1920.8" r="6.2"/>
<circle cx="730.9" cy="1920.8" r="6.2"/>
<circle cx="738.1" cy="1920.8" r="6.2"/>
</g>
<g stroke="#111" stroke-width="2.7" fill="none">
<path d="M222.2 1668.9V1752.2M209 1668.9H235.5M209 1752.2H235.5"/>
<path d="M299.6 1655.9V1746.5M286.4 1655.9H312.9M286.4 1746.5H312.9"/>
<path d="M430.5 1703.3V1760.6M417.2 1703.3H443.7M417.2 1760.6H443.7"/>
<path d="M508.8 1611.6V1701.8M495.6 1611.6H522M495.6 1701.8H522"/>
<path d="M639.5 1693.7V1764.4M626.2 1693.7H652.8M626.2 1764.4H652.8"/>
<path d="M716.8 1708.3V1765.6M703.6 1708.3H730.1M703.6 1765.6H730.1"/>
</g>
<g stroke="#000" stroke-width="6" fill="none">
<path d="M170 1317.8V1923.8"/>
<path d="M145 1920.8H772.9"/>
<path d="M145 1720.8H170"/>
<path d="M145 1520.8H170"/>
<path d="M145 1320.8H170"/>
<path d="M260.8 1920.8V1945.8"/>
<path d="M469.1 1920.8V1945.8"/>
<path d="M677.3 1920.8V1945.8"/>
</g>
<text x="138" y="1937.1" font-size="44.8" text-anchor="end" font-weight="bold">0</text>
<text x="138" y="1737.1" font-size="44.8" text-anchor="end" font-weight="bold">1</text>
<text x="138" y="1537.1" font-size="44.8" text-anchor="end" font-weight="bold">2</text>
<text x="138" y="1337.1" font-size="44.8" text-anchor="end" font-weight="bold">3</text>
<text x="211.6" y="1993.7" font-size="44.8" font-weight="bold" textLength="98.9" lengthAdjust="spacingAndGlyphs">high</text>
<text x="394.6" y="1993.7" font-size="44.8" font-weight="bold" textLength="148.6" lengthAdjust="spacingAndGlyphs">middle</text>
<text x="639.1" y="1993.7" font-size="44.8" font-weight="bold" textLength="74.4" lengthAdjust="spacingAndGlyphs">low</text>
<text x="336.5" y="2066" font-size="44.8" font-weight="bold" textLength="268.7" lengthAdjust="spacingAndGlyphs">Threat Level</text>
<text transform="translate(85.4 1726.4) rotate(-90)" font-size="45.5" font-weight="bold" textLength="213.6" lengthAdjust="spacingAndGlyphs">GI of SCR</text>
<text x="146" y="1243.4" font-size="56.3" font-weight="bold" textLength="645.5" lengthAdjust="spacingAndGlyphs">stimulus generalization</text>
</g>
<g id="BR">
<rect x="1065" y="1744.6" width="52.7" height="190.4" fill="#6b8dcb"/>
<rect x="1142.9" y="1717" width="52.7" height="218" fill="#16bec4"/>
<rect x="1273.2" y="1785.8" width="52.7" height="149.2" fill="#6b8dcb"/>
<rect x="1351.5" y="1799.2" width="52.8" height="135.8" fill="#16bec4"/>
<rect x="1482.5" y="1779" width="52.5" height="156" fill="#6b8dcb"/>
<rect x="1560.6" y="1841.1" width="52.7" height="93.9" fill="#16bec4"/>
<g fill="#324d8b" fill-opacity="0.55">
<circle cx="1090.6" cy="1405.8" r="6.2"/>
<circle cx="1090.6" cy="1421" r="6.2"/>
<circle cx="1085.8" cy="1524.8" r="6.2"/>
<circle cx="1095.8" cy="1521.2" r="6.2"/>
<circle cx="1090.6" cy="1582.4" r="6.2"/>
<circle cx="1090.6" cy="1641.2" r="6.2"/>
<circle cx="1090.6" cy="1699.2" r="6.2"/>
<circle cx="1090.6" cy="1709.4" r="6.2"/>
<circle cx="1090.6" cy="1726.4" r="6.2"/>
<circle cx="1100.8" cy="1727.8" r="6.2"/>
<circle cx="1090.6" cy="1737.6" r="6.2"/>
<circle cx="1090.6" cy="1750.6" r="6.2"/>
<circle cx="1080.8" cy="1759.4" r="6.2"/>
<circle cx="1090.6" cy="1769.8" r="6.2"/>
<circle cx="1080.8" cy="1800.6" r="6.2"/>
<circle cx="1090.6" cy="1804.2" r="6.2"/>
<circle cx="1100.8" cy="1802" r="6.2"/>
<circle cx="1080.8" cy="1819.2" r="6.2"/>
<circle cx="1090.6" cy="1821.2" r="6.2"/>
<circle cx="1100.8" cy="1819.8" r="6.2"/>
<circle cx="1080.8" cy="1850.4" r="6.2"/>
<circle cx="1090.6" cy="1854.4" r="6.2"/>
<circle cx="1080.8" cy="1871.4" r="6.2"/>
<circle cx="1100.8" cy="1875.6" r="6.2"/>
<circle cx="1090.6" cy="1882.4" r="6.2"/>
<circle cx="1070.6" cy="1935" r="6.2"/>
<circle cx="1080.8" cy="1935" r="6.2"/>
<circle cx="1090.6" cy="1935" r="6.2"/>
<circle cx="1100.8" cy="1935" r="6.2"/>
<circle cx="1110.9" cy="1935" r="6.2"/>
</g>
<g fill="#148c8c" fill-opacity="0.55">
<circle cx="1168.7" cy="1449.8" r="6.2"/>
<circle cx="1163.8" cy="1522" r="6.2"/>
<circle cx="1174" cy="1525.8" r="6.2"/>
<circle cx="1158.5" cy="1644.8" r="6.2"/>
<circle cx="1168.7" cy="1652.2" r="6.2"/>
<circle cx="1168.7" cy="1672.8" r="6.2"/>
<circle cx="1163.8" cy="1698.4" r="6.2"/>
<circle cx="1174" cy="1698.4" r="6.2"/>
<circle cx="1148.3" cy="1713.6" r="6.2"/>
<circle cx="1158.5" cy="1713.6" r="6.2"/>
<circle cx="1179.2" cy="1712.2" r="6.2"/>
<circle cx="1188.8" cy="1717" r="6.2"/>
<circle cx="1168.7" cy="1725.8" r="6.2"/>
<circle cx="1179.2" cy="1725.8" r="6.2"/>
<circle cx="1168.7" cy="1738.8" r="6.2"/>
<circle cx="1158.5" cy="1765.8" r="6.2"/>
<circle cx="1168.7" cy="1774.6" r="6.2"/>
<circle cx="1168.7" cy="1799.2" r="6.2"/>
<circle cx="1158.5" cy="1809.2" r="6.2"/>
<circle cx="1179.2" cy="1809.6" r="6.2"/>
<circle cx="1168.7" cy="1822" r="6.2"/>
<circle cx="1168.7" cy="1869.6" r="6.2"/>
<circle cx="1168.7" cy="1882.4" r="6.2"/>
<circle cx="1163.8" cy="1905.8" r="6.2"/>
<circle cx="1174" cy="1904.4" r="6.2"/>
<circle cx="1153" cy="1935" r="6.2"/>
<circle cx="1163.8" cy="1935" r="6.2"/>
<circle cx="1174" cy="1935" r="6.2"/>
<circle cx="1184" cy="1935" r="6.2"/>
</g>
<g fill="#324d8b" fill-opacity="0.55">
<circle cx="1299.3" cy="1607.2" r="6.2"/>
<circle cx="1299.3" cy="1640.8" r="6.2"/>
<circle cx="1299.3" cy="1672.4" r="6.2"/>
<circle cx="1286.9" cy="1710.2" r="6.2"/>
<circle cx="1303.4" cy="1709.4" r="6.2"/>
<circle cx="1295.1" cy="1714.8" r="6.2"/>
<circle cx="1286.9" cy="1724.6" r="6.2"/>
<circle cx="1303.4" cy="1724.6" r="6.2"/>
<circle cx="1311.6" cy="1730.8" r="6.2"/>
<circle cx="1295.1" cy="1733.6" r="6.2"/>
<circle cx="1295.1" cy="1754.2" r="6.2"/>
<circle cx="1303.4" cy="1760.8" r="6.2"/>
<circle cx="1299.3" cy="1784.2" r="6.2"/>
<circle cx="1311.6" cy="1797.4" r="6.2"/>
<circle cx="1286.9" cy="1801.4" r="6.2"/>
<circle cx="1295.1" cy="1803.4" r="6.2"/>
<circle cx="1303.4" cy="1812.4" r="6.2"/>
<circle cx="1299.3" cy="1829" r="6.2"/>
<circle cx="1311.6" cy="1846.2" r="6.2"/>
<circle cx="1303.4" cy="1855" r="6.2"/>
<circle cx="1295.1" cy="1857.2" r="6.2"/>
<circle cx="1303.4" cy="1899.6" r="6.2"/>
<circle cx="1295.1" cy="1903" r="6.2"/>
<circle cx="1278.7" cy="1935" r="6.2"/>
<circle cx="1285.5" cy="1935" r="6.2"/>
<circle cx="1292.4" cy="1935" r="6.2"/>
<circle cx="1299.3" cy="1935" r="6.2"/>
<circle cx="1306.1" cy="1935" r="6.2"/>
<circle cx="1313" cy="1935" r="6.2"/>
<circle cx="1319.9" cy="1935" r="6.2"/>
</g>
<g fill="#148c8c" fill-opacity="0.55">
<circle cx="1377.8" cy="1564.4" r="6.2"/>
<circle cx="1375.6" cy="1600" r="6.2"/>
<circle cx="1380.3" cy="1603.6" r="6.2"/>
<circle cx="1375.6" cy="1626.4" r="6.2"/>
<circle cx="1380.3" cy="1627" r="6.2"/>
<circle cx="1377.8" cy="1677.2" r="6.2"/>
<circle cx="1373.4" cy="1697" r="6.2"/>
<circle cx="1383" cy="1700.6" r="6.2"/>
<circle cx="1377.8" cy="1704" r="6.2"/>
<circle cx="1377.8" cy="1735" r="6.2"/>
<circle cx="1377.8" cy="1744.6" r="6.2"/>
<circle cx="1377.8" cy="1760.2" r="6.2"/>
<circle cx="1383" cy="1772.6" r="6.2"/>
<circle cx="1375.6" cy="1776.8" r="6.2"/>
<circle cx="1377.8" cy="1796" r="6.2"/>
<circle cx="1377.8" cy="1829" r="6.2"/>
<circle cx="1377.8" cy="1857.8" r="6.2"/>
<circle cx="1377.8" cy="1872.8" r="6.2"/>
<circle cx="1377.8" cy="1889.4" r="6.2"/>
<circle cx="1356.9" cy="1935" r="6.2"/>
<circle cx="1361.6" cy="1935" r="6.2"/>
<circle cx="1366.2" cy="1935" r="6.2"/>
<circle cx="1370.9" cy="1935" r="6.2"/>
<circle cx="1375.6" cy="1935" r="6.2"/>
<circle cx="1380.3" cy="1935" r="6.2"/>
<circle cx="1384.9" cy="1935" r="6.2"/>
<circle cx="1389.6" cy="1935" r="6.2"/>
<circle cx="1394.3" cy="1935" r="6.2"/>
<circle cx="1398.9" cy="1935" r="6.2"/>
</g>
<g fill="#324d8b" fill-opacity="0.55">
<circle cx="1508.2" cy="1459.4" r="6.2"/>
<circle cx="1508.2" cy="1480.6" r="6.2"/>
<circle cx="1501.5" cy="1611.4" r="6.2"/>
<circle cx="1515" cy="1610.4" r="6.2"/>
<circle cx="1501.5" cy="1675.8" r="6.2"/>
<circle cx="1515" cy="1675" r="6.2"/>
<circle cx="1508.2" cy="1695.2" r="6.2"/>
<circle cx="1494.7" cy="1737.4" r="6.2"/>
<circle cx="1508.2" cy="1739.6" r="6.2"/>
<circle cx="1521.5" cy="1741" r="6.2"/>
<circle cx="1501.5" cy="1754" r="6.2"/>
<circle cx="1515" cy="1752.6" r="6.2"/>
<circle cx="1515" cy="1766.2" r="6.2"/>
<circle cx="1501.5" cy="1791.8" r="6.2"/>
<circle cx="1515" cy="1804.8" r="6.2"/>
<circle cx="1488.7" cy="1818.4" r="6.2"/>
<circle cx="1515" cy="1821.2" r="6.2"/>
<circle cx="1528.5" cy="1829" r="6.2"/>
<circle cx="1488.7" cy="1830.8" r="6.2"/>
<circle cx="1515" cy="1838.6" r="6.2"/>
<circle cx="1528.5" cy="1845.4" r="6.2"/>
<circle cx="1488.7" cy="1849" r="6.2"/>
<circle cx="1528.5" cy="1858.2" r="6.2"/>
<circle cx="1488.7" cy="1863.2" r="6.2"/>
<circle cx="1515" cy="1864.6" r="6.2"/>
<circle cx="1501.5" cy="1868.2" r="6.2"/>
<circle cx="1528.5" cy="1874.2" r="6.2"/>
<circle cx="1515" cy="1882" r="6.2"/>
<circle cx="1508.2" cy="1921.4" r="6.2"/>
<circle cx="1501.5" cy="1935" r="6.2"/>
<circle cx="1515" cy="1935" r="6.2"/>
</g>
<g fill="#148c8c" fill-opacity="0.55">
<circle cx="1586.1" cy="1623.4" r="6.2"/>
<circle cx="1586.1" cy="1669.6" r="6.2"/>
<circle cx="1586.1" cy="1683.2" r="6.2"/>
<circle cx="1586.1" cy="1697" r="6.2"/>
<circle cx="1586.1" cy="1716.2" r="6.2"/>
<circle cx="1583.3" cy="1766.2" r="6.2"/>
<circle cx="1589.4" cy="1764.8" r="6.2"/>
<circle cx="1586.1" cy="1780.8" r="6.2"/>
<circle cx="1583.3" cy="1814.4" r="6.2"/>
<circle cx="1589.4" cy="1816.6" r="6.2"/>
<circle cx="1594.3" cy="1821.2" r="6.2"/>
<circle cx="1577.8" cy="1826.2" r="6.2"/>
<circle cx="1583.3" cy="1831.6" r="6.2"/>
<circle cx="1589.4" cy="1839.8" r="6.2"/>
<circle cx="1577.8" cy="1849.6" r="6.2"/>
<circle cx="1586.1" cy="1871.4" r="6.2"/>
<circle cx="1582" cy="1874.2" r="6.2"/>
<circle cx="1590.2" cy="1868.8" r="6.2"/>
<circle cx="1576.5" cy="1883.8" r="6.2"/>
<circle cx="1594.3" cy="1883.8" r="6.2"/>
<circle cx="1586.1" cy="1889.4" r="6.2"/>
<circle cx="1582" cy="1892" r="6.2"/>
<circle cx="1586.1" cy="1912.6" r="6.2"/>
<circle cx="1566.9" cy="1935" r="6.2"/>
<circle cx="1572.6" cy="1935" r="6.2"/>
<circle cx="1578.7" cy="1935" r="6.2"/>
<circle cx="1584.4" cy="1935" r="6.2"/>
<circle cx="1590.5" cy="1935" r="6.2"/>
<circle cx="1596.2" cy="1935" r="6.2"/>
<circle cx="1602.3" cy="1935" r="6.2"/>
<circle cx="1608.1" cy="1935" r="6.2"/>
</g>
<g stroke="#111" stroke-width="2.7" fill="none">
<path d="M1091.3 1712.8V1775.9M1078.1 1712.8H1104.6M1078.1 1775.9H1104.6"/>
<path d="M1169.2 1682.7V1752.6M1156 1682.7H1182.5M1156 1752.6H1182.5"/>
<path d="M1299.6 1762.5V1810.3M1286.3 1762.5H1312.8M1286.3 1810.3H1312.8"/>
<path d="M1377.9 1778.2V1821M1364.7 1778.2H1391.2M1364.7 1821H1391.2"/>
<path d="M1508.8 1756.8V1800M1495.5 1756.8H1522M1495.5 1800H1522"/>
<path d="M1586.9 1825.6V1856.5M1573.7 1825.6H1600.2M1573.7 1856.5H1600.2"/>
</g>
<g stroke="#000" stroke-width="6" fill="none">
<path d="M1039.1 1332V1938"/>
<path d="M1014.1 1935H1641.7"/>
<path d="M1014.1 1735H1039.1"/>
<path d="M1014.1 1535H1039.1"/>
<path d="M1014.1 1335H1039.1"/>
<path d="M1129.9 1935V1960"/>
<path d="M1338.2 1935V1960"/>
<path d="M1546.6 1935V1960"/>
</g>
<text x="1007.1" y="1951.3" font-size="44.8" text-anchor="end" font-weight="bold">0</text>
<text x="1007.1" y="1751.3" font-size="44.8" text-anchor="end" font-weight="bold">1</text>
<text x="1007.1" y="1551.3" font-size="44.8" text-anchor="end" font-weight="bold">2</text>
<text x="1007.1" y="1351.3" font-size="44.8" text-anchor="end" font-weight="bold">3</text>
<text x="1081.5" y="2008" font-size="44.8" font-weight="bold" textLength="98.5" lengthAdjust="spacingAndGlyphs">high</text>
<text x="1264" y="2008" font-size="44.8" font-weight="bold" textLength="149.2" lengthAdjust="spacingAndGlyphs">middle</text>
<text x="1508.8" y="2008" font-size="44.8" font-weight="bold" textLength="75.7" lengthAdjust="spacingAndGlyphs">low</text>
<text x="1206" y="2080.6" font-size="44.8" font-weight="bold" textLength="269.1" lengthAdjust="spacingAndGlyphs">Threat Level</text>
<text transform="translate(955.5 1740.5) rotate(-90)" font-size="45.5" font-weight="bold" textLength="213.6" lengthAdjust="spacingAndGlyphs">GI of SCR</text>
<text x="1031.8" y="1257.2" font-size="56" font-weight="bold" textLength="616.4" lengthAdjust="spacingAndGlyphs">context generalization</text>
</g>
<circle cx="1724.5" cy="1341" r="6.2" fill="#324d8b" fill-opacity="0.55"/>
<circle cx="1724.5" cy="1421" r="6.2" fill="#148c8c" fill-opacity="0.55"/>
<text x="1792.2" y="1357.2" font-size="49" font-weight="normal" textLength="290.2" lengthAdjust="spacingAndGlyphs">stimulus bias</text>
<text x="1791.5" y="1437.2" font-size="49" font-weight="normal" textLength="268.5" lengthAdjust="spacingAndGlyphs">context bias</text>
<g id="C">
<path d="M396.3 2453.5L656.8 2528.8" stroke="#16bec4" stroke-width="4.5" fill="none"/>
<g stroke="#111" stroke-width="2.7" fill="none">
<path d="M396.3 2415.3V2490.4M385.8 2415.3H406.8M385.8 2490.4H406.8"/>
<path d="M656.8 2513.3V2542.6M646.3 2513.3H667.3M646.3 2542.6H667.3"/>
</g>
<rect x="385.9" y="2443.1" width="20.8" height="20.8" fill="#16bec4"/>
<rect x="646.4" y="2518.4" width="20.8" height="20.8" fill="#16bec4"/>
<path d="M396.3 2534.5L656.8 2470" stroke="#6b8dcb" stroke-width="4.5" fill="none"/>
<g stroke="#111" stroke-width="2.7" fill="none">
<path d="M396.3 2521V2548.2M385.8 2521H406.8M385.8 2548.2H406.8"/>
<path d="M656.8 2443.5V2495.3M646.3 2443.5H667.3M646.3 2495.3H667.3"/>
</g>
<circle cx="396.3" cy="2534.5" r="10.2" fill="#6b8dcb"/>
<circle cx="656.8" cy="2470" r="10.2" fill="#6b8dcb"/>
<g stroke="#000" stroke-width="5" fill="none">
<path d="M222.8 2278.3V2798.3"/>
<path d="M200.8 2795.8H833"/>
<path d="M200.8 2667.1H222.8"/>
<path d="M200.8 2538.3H222.8"/>
<path d="M200.8 2409.6H222.8"/>
<path d="M200.8 2280.8H222.8"/>
<path d="M396.3 2795.8V2817.3"/>
<path d="M656.8 2795.8V2817.3"/>
</g>
<text x="194.8" y="2810.1" font-size="39.3" text-anchor="end" font-weight="bold">0</text>
<text x="194.8" y="2681.4" font-size="39.3" text-anchor="end" font-weight="bold">1</text>
<text x="194.8" y="2552.6" font-size="39.3" text-anchor="end" font-weight="bold">2</text>
<text x="194.8" y="2423.9" font-size="39.3" text-anchor="end" font-weight="bold">3</text>
<text x="194.8" y="2295.1" font-size="39.3" text-anchor="end" font-weight="bold">4</text>
<text x="368.2" y="2858.3" font-size="39.3" font-weight="bold" textLength="56.6" lengthAdjust="spacingAndGlyphs">GS</text>
<text x="615.6" y="2858.3" font-size="39.3" font-weight="bold" textLength="81.9" lengthAdjust="spacingAndGlyphs">GTX</text>
<text x="342.2" y="2919.8" font-size="39.3" font-weight="bold" textLength="368.7" lengthAdjust="spacingAndGlyphs">Generalization Type</text>
<text transform="translate(104.7 2742.7) rotate(-90)" font-size="39.3" font-weight="bold" textLength="410.6" lengthAdjust="spacingAndGlyphs">Generalization degree</text>
<text transform="translate(149.2 2702) rotate(-90)" font-size="39.3" font-weight="bold" textLength="326.9" lengthAdjust="spacingAndGlyphs">of US expectancy</text>
<path d="M819.2 2288H874.4" stroke="#6b8dcb" stroke-width="5"/>
<circle cx="846.8" cy="2288" r="10.3" fill="#6b8dcb"/>
<path d="M819.2 2356.8H874.4" stroke="#16bec4" stroke-width="5"/>
<rect x="836.2" y="2346.2" width="21.2" height="21.2" fill="#16bec4"/>
<text x="905.3" y="2302.5" font-size="43" font-weight="normal" textLength="249.2" lengthAdjust="spacingAndGlyphs">stimulus bias</text>
<text x="904.7" y="2371.3" font-size="43" font-weight="normal" textLength="230.1" lengthAdjust="spacingAndGlyphs">context bias</text>
</g>
<g id="D">
<path d="M1618.8 2410L1880.4 2604" stroke="#16bec4" stroke-width="4.5" fill="none"/>
<g stroke="#111" stroke-width="2.7" fill="none">
<path d="M1618.8 2345.9V2472.8M1608.3 2345.9H1629.3M1608.3 2472.8H1629.3"/>
<path d="M1880.4 2573.4V2633M1869.9 2573.4H1890.9M1869.9 2633H1890.9"/>
</g>
<rect x="1608.4" y="2399.6" width="20.8" height="20.8" fill="#16bec4"/>
<rect x="1870" y="2593.6" width="20.8" height="20.8" fill="#16bec4"/>
<path d="M1618.8 2462.3L1880.4 2518.7" stroke="#6b8dcb" stroke-width="4.5" fill="none"/>
<g stroke="#111" stroke-width="2.7" fill="none">
<path d="M1618.8 2403.4V2519.4M1608.3 2403.4H1629.3M1608.3 2519.4H1629.3"/>
<path d="M1880.4 2479.2V2557.5M1869.9 2479.2H1890.9M1869.9 2557.5H1890.9"/>
</g>
<circle cx="1618.8" cy="2462.3" r="10.2" fill="#6b8dcb"/>
<circle cx="1880.4" cy="2518.7" r="10.2" fill="#6b8dcb"/>
<g stroke="#000" stroke-width="5" fill="none">
<path d="M1444.2 2278.3V2798.3"/>
<path d="M1422.2 2795.8H2058"/>
<path d="M1422.2 2667.1H1444.2"/>
<path d="M1422.2 2538.3H1444.2"/>
<path d="M1422.2 2409.6H1444.2"/>
<path d="M1422.2 2280.8H1444.2"/>
<path d="M1618.8 2795.8V2817.3"/>
<path d="M1880.4 2795.8V2817.3"/>
</g>
<text x="1416.2" y="2810.1" font-size="39.3" text-anchor="end" font-weight="bold">0</text>
<text x="1416.2" y="2681.4" font-size="39.3" text-anchor="end" font-weight="bold">1</text>
<text x="1416.2" y="2552.6" font-size="39.3" text-anchor="end" font-weight="bold">2</text>
<text x="1416.2" y="2423.9" font-size="39.3" text-anchor="end" font-weight="bold">3</text>
<text x="1416.2" y="2295.1" font-size="39.3" text-anchor="end" font-weight="bold">4</text>
<text x="1590.6" y="2858.3" font-size="39.3" font-weight="bold" textLength="58.2" lengthAdjust="spacingAndGlyphs">GS</text>
<text x="1839.5" y="2858.3" font-size="39.3" font-weight="bold" textLength="81.5" lengthAdjust="spacingAndGlyphs">GTX</text>
<text x="1565.7" y="2919.8" font-size="39.3" font-weight="bold" textLength="369.2" lengthAdjust="spacingAndGlyphs">Generalization Type</text>
<text transform="translate(1325.4 2742.7) rotate(-90)" font-size="39.3" font-weight="bold" textLength="410.8" lengthAdjust="spacingAndGlyphs">Generalization degree</text>
<text transform="translate(1371.2 2602.5) rotate(-90)" font-size="39.3" font-weight="bold" textLength="130.8" lengthAdjust="spacingAndGlyphs">of SCR</text>
<path d="M1945.2 2287H2000.1" stroke="#6b8dcb" stroke-width="5"/>
<circle cx="1972.7" cy="2287" r="10.3" fill="#6b8dcb"/>
<path d="M1945.2 2355.6H2000.1" stroke="#16bec4" stroke-width="5"/>
<rect x="1962.1" y="2345" width="21.2" height="21.2" fill="#16bec4"/>
<text x="2030.8" y="2301.1" font-size="43" font-weight="normal" textLength="250.6" lengthAdjust="spacingAndGlyphs">stimulus bias</text>
<text x="2030.2" y="2370.1" font-size="43" font-weight="normal" textLength="231.6" lengthAdjust="spacingAndGlyphs">context bias</text>
</g>
</svg>
</body></html>
